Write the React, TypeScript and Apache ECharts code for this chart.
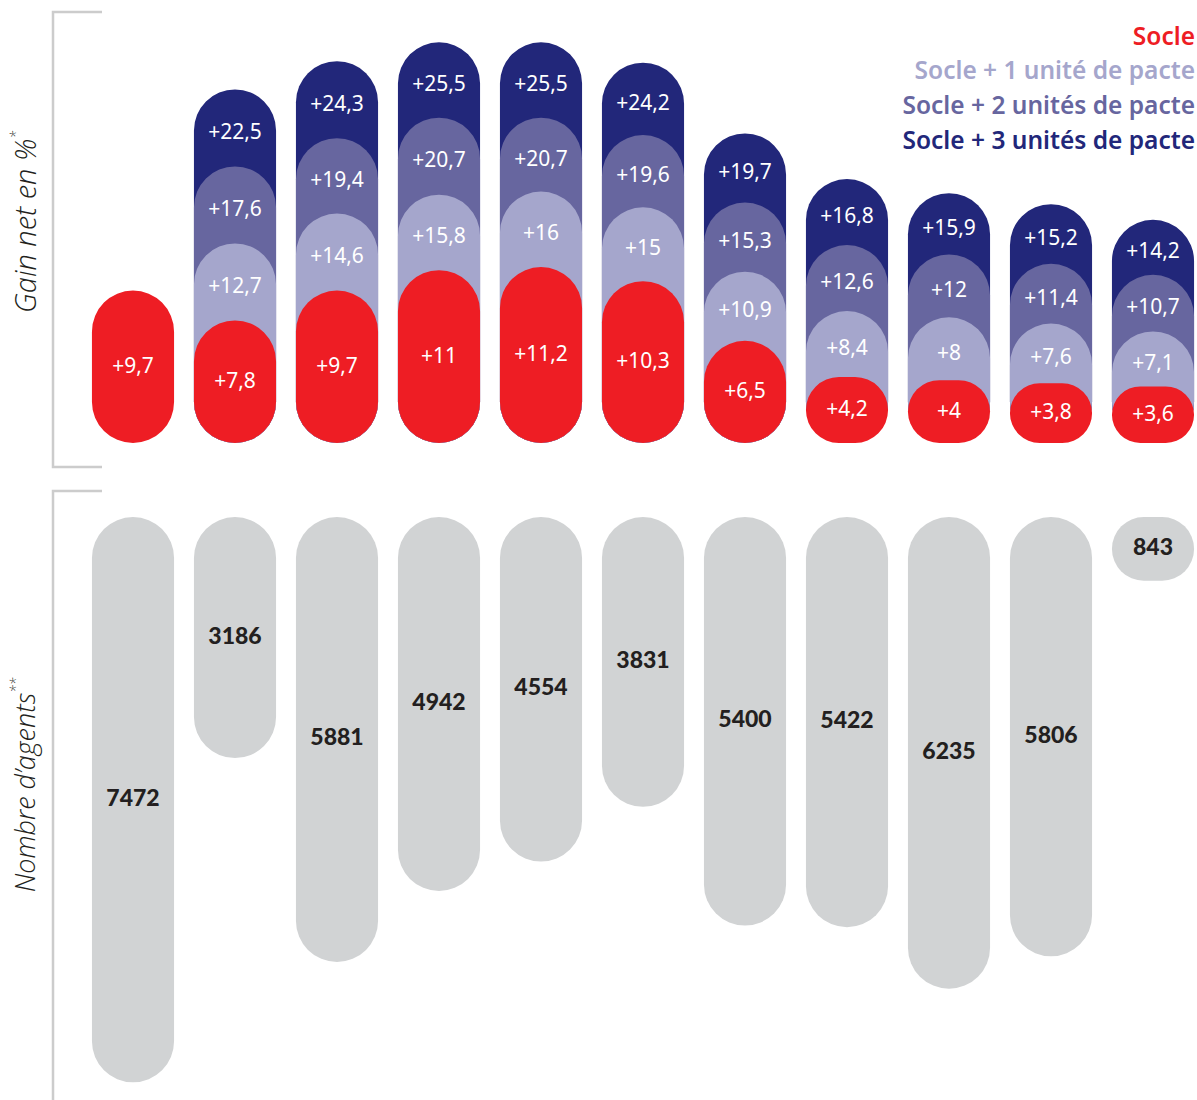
import React, { useEffect, useRef } from "react";
import * as echarts from "echarts";

const categories = ["1", "2", "3", "4", "5", "6", "7", "8", "9", "10", "11"];
const socle = [9.7, 7.8, 9.7, 11, 11.2, 10.3, 6.5, 4.2, 4, 3.8, 3.6];
const plus1 = [null, 12.7, 14.6, 15.8, 16, 15, 10.9, 8.4, 8, 7.6, 7.1];
const plus2 = [null, 17.6, 19.4, 20.7, 20.7, 19.6, 15.3, 12.6, 12, 11.4, 10.7];
const plus3 = [null, 22.5, 24.3, 25.5, 25.5, 24.2, 19.7, 16.8, 15.9, 15.2, 14.2];
const agents = [7472, 3186, 5881, 4942, 4554, 3831, 5400, 5422, 6235, 5806, 843];

const seriesNames = [
  "Socle",
  "Socle + 1 unité de pacte",
  "Socle + 2 unités de pacte",
  "Socle + 3 unités de pacte",
];
const colors = ["#EE1D24", "#A5A6CC", "#67669F", "#22277A"];
const grey = "#D1D3D4";
const FONT = "'Noto Sans', sans-serif";

const fmt = (v: number) => "+" + String(v).replace(".", ",");

export default function App() {
  const ref = useRef<HTMLDivElement>(null);
  useEffect(() => {
    document.body.style.margin = "0";
    if (!ref.current) return;
    const chart = echarts.init(ref.current, null, { renderer: "svg" });

    const levels = [socle, plus1, plus2, plus3];
    const gainSeries = [3, 2, 1, 0].map((lvl) => {
      const vals = levels[lvl];
      const lower = lvl === 0 ? null : levels[lvl - 1];
      const data = vals
        .map((v, i) => (v == null ? null : [i, v, lower ? (lower[i] as number) : 0]))
        .filter((d) => d !== null);
      return {
        type: "custom",
        name: seriesNames[lvl],
        xAxisIndex: 0,
        yAxisIndex: 0,
        encode: { x: 0, y: 1 },
        data,
        renderItem: (params: any, api: any) => {
          const i = api.value(0);
          const v = api.value(1);
          const lo = api.value(2);
          const top = api.coord([i, v]);
          const base = api.coord([i, 0]);
          const low = api.coord([i, lo]);
          const bw = api.size([1, 0])[0] * 0.805;
          const h = base[1] - top[1];
          return {
            type: "group",
            children: [
              {
                type: "rect",
                shape: { x: top[0] - bw / 2, y: top[1], width: bw, height: h, r: bw / 2 },
                style: { fill: colors[lvl] },
              },
              {
                type: "text",
                style: {
                  text: fmt(v),
                  x: top[0],
                  y: (top[1] + low[1]) / 2 + (lvl === 0 ? -2 : 3),
                  align: "center",
                  verticalAlign: "middle",
                  fill: "#FFFFFF",
                  font: `21px ${FONT}`,
                },
              },
            ],
          };
        },
      };
    });

    const agentSeries = {
      type: "custom",
      name: "Nombre d'agents",
      xAxisIndex: 1,
      yAxisIndex: 1,
      encode: { x: 0, y: 1 },
      data: agents.map((v, i) => [i, v]),
      renderItem: (params: any, api: any) => {
        const i = api.value(0);
        const v = api.value(1);
        const p0 = api.coord([i, 0]);
        const p1 = api.coord([i, v]);
        const bw = api.size([1, 0])[0] * 0.805;
        return {
          type: "group",
          children: [
            {
              type: "rect",
              shape: { x: p0[0] - bw / 2, y: p0[1], width: bw, height: p1[1] - p0[1], r: bw / 2 },
              style: { fill: grey },
            },
            {
              type: "text",
              style: {
                text: String(v),
                x: p0[0],
                y: (p0[1] + p1[1]) / 2 - 3,
                align: "center",
                verticalAlign: "middle",
                fill: "#231F20",
                font: `900 23px Lato, ${FONT}`,
              },
            },
          ],
        };
      },
    };

    const legendYs = [35, 69, 104, 139];
    const legendTexts = seriesNames.map((n, k) => ({
      type: "text",
      x: 1195,
      y: legendYs[k],
      style: {
        text: n,
        align: "right",
        verticalAlign: "middle",
        fill: colors[k],
        font: `600 24.5px ${FONT}`,
      },
    }));

    const titleRich = (big: number) => ({
      a: { fontSize: big, fontStyle: "italic", fontWeight: 300, fontFamily: "'Open Sans', sans-serif", fill: "#231F20", lineHeight: 32 },
      s: { fontSize: 14, fontStyle: "italic", fontWeight: 300, fontFamily: "'Open Sans', sans-serif", fill: "#231F20", verticalAlign: "top", lineHeight: 32 },
    });

    const option: any = {
      animation: false,
      grid: [
        { left: 133, right: 44, top: 3, height: 440 },
        { left: 133, right: 44, top: 517, height: 575 },
      ],
      xAxis: [
        { type: "value", gridIndex: 0, min: 0, max: categories.length - 1, show: false },
        { type: "value", gridIndex: 1, min: 0, max: categories.length - 1, show: false },
      ],
      yAxis: [
        { type: "value", gridIndex: 0, min: 0, max: 28, show: false },
        { type: "value", gridIndex: 1, min: 0, max: 7600, inverse: true, show: false },
      ],
      series: [...gainSeries, agentSeries],
      graphic: [
        {
          type: "polyline",
          shape: { points: [[102, 12], [53, 12], [53, 467], [102, 467]] },
          style: { stroke: "#CCCCCC", lineWidth: 2.5, fill: null },
        },
        {
          type: "polyline",
          shape: { points: [[102, 491], [53, 491], [53, 1100]] },
          style: { stroke: "#CCCCCC", lineWidth: 2.5, fill: null },
        },
        {
          type: "text",
          x: 24,
          y: 222,
          rotation: Math.PI / 2,
          style: {
            text: "{a|Gain net en %}{s|*}",
            align: "center",
            verticalAlign: "middle",
            fill: "#231F20",
            rich: titleRich(29),
          },
        },
        {
          type: "text",
          x: 24,
          y: 785,
          rotation: Math.PI / 2,
          style: {
            text: "{a|Nombre d’agents}{s|**}",
            align: "center",
            verticalAlign: "middle",
            fill: "#231F20",
            rich: titleRich(27),
          },
        },
        ...legendTexts,
      ],
    };
    chart.setOption(option);
    return () => chart.dispose();
  }, []);
  return <div ref={ref} style={{ width: 1197, height: 1100 }} />;
}
